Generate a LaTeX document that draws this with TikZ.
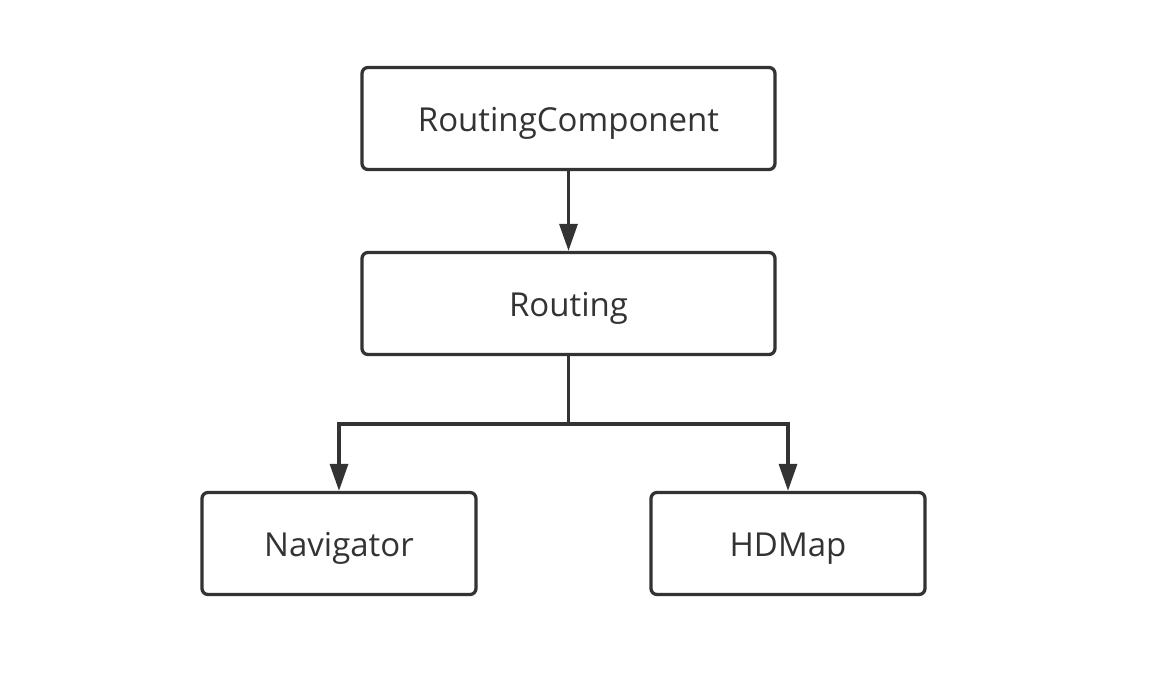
\documentclass[tikz,border=0pt]{standalone}
\usepackage{fontspec}
\setmainfont{Open Sans}
\usetikzlibrary{arrows.meta}
\definecolor{ink}{HTML}{333333}
\begin{document}
\begin{tikzpicture}[x=1pt,y=-1pt,
  box/.style={draw=ink,line width=3.3pt,rounded corners=6pt,minimum width=413pt,minimum height=102pt,inner sep=0pt,text=ink,font=\fontsize{33}{40}\selectfont,
    text height=30pt,text depth=5pt},
  smallbox/.style={box,minimum width=274pt},
  conn/.style={draw=ink,line width=3.3pt,-{Triangle[width=18pt,length=27pt]}}]
\useasboundingbox (0,0) rectangle (1170,678);
\node[box] (rc) at (568.5,118.5) {RoutingComponent};
\node[box] (r) at (568.5,303.5) {Routing};
\node[smallbox] (n) at (339,543.5) {Navigator};
\node[smallbox] (h) at (788,543.5) {HDMap};
\coordinate (j) at (568.5,424);
\draw[conn] (rc.south) -- (r.north);
\draw[draw=ink,line width=3.3pt] (r.south) -- (j);
\draw[conn] (j) -| (n.north);
\draw[conn] (j) -| (h.north);
\end{tikzpicture}
\end{document}
